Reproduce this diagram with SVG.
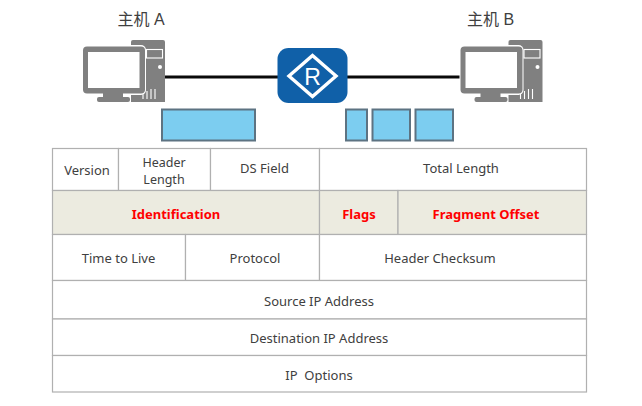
<svg xmlns="http://www.w3.org/2000/svg" width="642" height="406" viewBox="0 0 642 406">
<defs>
<style>
text{font-family:"Noto Sans","Open Sans","Noto Sans CJK SC",sans-serif;font-size:13px;fill:#404040;text-anchor:middle;white-space:pre}
.host{font-family:"Liberation Sans","Noto Sans CJK SC",sans-serif;font-size:16px;fill:#404040}
.red{fill:#ff0000;font-weight:700}
.cell{fill:#fff;stroke:#b0b0b0;stroke-width:1.2}
.tan{fill:#ecebe0;stroke:#b0b0b0;stroke-width:1.2}
.pkt{fill:#7ccdf0;stroke:#5d7382;stroke-width:2}
.link{stroke:#0a0a0a;stroke-width:3;fill:none}
.g{fill:#808080}
.w{fill:#fff}
.wl{stroke:#fff;stroke-width:1.1;fill:none}
.tight{font-size:12.500px}
</style>
<g id="pc">
<path class="g" d="M50 0h30a2 2 0 0 1 2 2v60H48V2a2 2 0 0 1 2-2z"/>
<rect class="wl" x="63.500" y="9.500" width="16" height="8.500"/>
<circle class="w" cx="77" cy="27" r="2"/>
<path class="wl" d="M60 59v-5M64 59v-8M68 59v-10M72 59v-10"/>
<rect x="-1" y="5" width="64" height="50" rx="5" class="w"/>
<rect class="g" x="0" y="6.500" width="62" height="47" rx="4"/>
<rect class="w" x="5" y="12" width="51.500" height="36"/>
<path class="g" d="M20 53h20v4.500H20z"/>
<rect class="g" x="14" y="57" width="33" height="5" rx="2"/>
</g>
</defs>
<g id="connectors">
<path class="link" d="M165 77H278"/>
<path class="link" d="M347 77H462"/>
</g>
<g id="host-a">
<text class="host" x="141" y="25">主机 A</text>
<use href="#pc" x="83" y="40"/>
</g>
<g id="host-b">
<text class="host" x="490.500" y="25">主机 B</text>
<use href="#pc" x="460.500" y="40"/>
</g>
<g id="router">
<rect x="277.500" y="48" width="70" height="55" rx="11" fill="#1060a8"/>
<path d="M312.500 55.500L336 76 312.500 96.500 289 76z" fill="none" stroke="#fff" stroke-width="3.400"/>
<text x="312.500" y="84.500" style="font-family:'Liberation Sans',sans-serif;font-size:23px;fill:#fff">R</text>
</g>
<g id="packet-whole"><rect class="pkt" x="162" y="109.500" width="93" height="31"/></g>
<g id="fragment-1"><rect class="pkt" x="346" y="109.500" width="21" height="31"/></g>
<g id="fragment-2"><rect class="pkt" x="372.500" y="109.500" width="37.500" height="31"/></g>
<g id="fragment-3"><rect class="pkt" x="415.500" y="109.500" width="37.500" height="31"/></g>
<g id="version"><rect class="cell" x="52.500" y="148.500" width="66" height="42"/><text x="87" y="175">Version</text></g>
<g id="header-length"><rect class="cell" x="118.500" y="148.500" width="92" height="42"/><text class="tight" x="164" y="167">Header<tspan x="164" dy="17">Length</tspan></text></g>
<g id="ds-field"><rect class="cell" x="210.500" y="148.500" width="109" height="42"/><text x="264.500" y="173">DS Field</text></g>
<g id="total-length"><rect class="cell" x="319.500" y="148.500" width="267" height="42"/><text x="461" y="173">Total Length</text></g>
<g id="identification"><rect class="tan" x="52.500" y="190.500" width="267" height="44"/><text class="red" x="176" y="218.500">Identification</text></g>
<g id="flags"><rect class="tan" x="319.500" y="190.500" width="78.500" height="44"/><text class="red" x="359" y="218.500">Flags</text></g>
<g id="fragment-offset"><rect class="tan" x="398" y="190.500" width="188.500" height="44"/><text class="red" x="486" y="218.500">Fragment Offset</text></g>
<g id="ttl"><rect class="cell" x="52.500" y="234.500" width="133" height="46"/><text x="118.500" y="262.500">Time to Live</text></g>
<g id="protocol"><rect class="cell" x="185.500" y="234.500" width="134" height="46"/><text x="255" y="262.500">Protocol</text></g>
<g id="checksum"><rect class="cell" x="319.500" y="234.500" width="267" height="46"/><text x="440" y="262.500">Header Checksum</text></g>
<g id="source"><rect class="cell" x="52.500" y="280.500" width="534" height="38.500"/><text x="319" y="306">Source IP Address</text></g>
<g id="destination"><rect class="cell" x="52.500" y="319" width="534" height="36.500"/><text x="319" y="343">Destination IP Address</text></g>
<g id="options"><rect class="cell" x="52.500" y="355.500" width="534" height="36.500"/><text x="319" y="380">IP  Options</text></g>
</svg>
